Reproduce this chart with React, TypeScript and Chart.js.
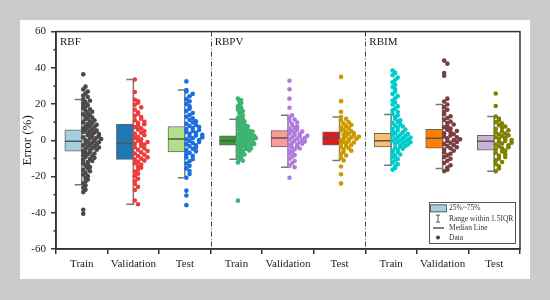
import React, { useEffect, useRef } from "react";
import { Chart, registerables } from "chart.js";

Chart.register(...registerables);

const FONT = "'Liberation Serif', 'Times New Roman', serif";

const categories = ["Train", "Validation", "Test", "Train", "Validation", "Test", "Train", "Validation", "Test"];
const models = ["RBF", "RBPV", "RBIM"];
const yMinorTicks = [-50, -30, -10, 10, 30, 50];

const q1 = [-6.0, -10.5, -6.4, -2.7, -3.6, -2.7, -3.6, -4.4, -5.5];
const median = [-0.5, -1.8, 0.7, -0.2, 1.3, 1.1, -0.2, 1.1, -0.5];
const q3 = [5.8, 8.9, 7.6, 2.5, 5.3, 4.7, 3.8, 6.0, 2.7];
const whiskerLow = [-24.5, -35.3, -20.7, -10.5, -14.9, -11.1, -13.8, -15.6, -17.1];
const whiskerHigh = [22.5, 33.6, 27.8, 11.6, 13.8, 12.9, 14.3, 19.8, 13.1];

const rbfTrain = [36.4, 29.6, 28.1, 26.9, 25.8, 24.7, 23.9, 22.6, 21.8, 21.1, 20.2, 19.4, 18.6, 17.9, 17.1, 16.3, 15.8, 15.0, 14.4, 13.8, 13.1, 12.5, 12.0, 11.6, 11.0, 10.4, 9.9, 9.5, 9.0, 8.6, 8.1, 7.7, 7.3, 6.9, 6.5, 6.1, 5.7, 5.4, 5.0, 4.6, 4.3, 3.9, 3.5, 3.2, 2.8, 2.4, 2.1, 1.7, 1.4, 1.0, 0.7, 0.3, 0.0, -0.4, -0.7, -1.1, -1.4, -1.8, -2.2, -2.5, -2.9, -3.3, -3.6, -4.0, -4.4, -4.8, -5.2, -5.6, -6.0, -6.4, -6.9, -7.3, -7.8, -8.2, -8.7, -9.2, -9.7, -10.3, -10.8, -11.4, -12.0, -12.7, -13.3, -14.0, -14.8, -15.5, -16.3, -17.1, -18.0, -18.9, -19.8, -20.8, -21.7, -22.8, -23.9, -25.0, -26.2, -27.3, -28.6, -38.3, -40.6];
const rbfValidation = [33.6, 26.6, 22.4, 21.5, 20.7, 19.6, 18.2, 16.9, 15.4, 14.6, 13.5, 12.8, 11.9, 11.0, 10.2, 9.6, 8.9, 8.1, 7.3, 6.6, 5.9, 5.1, 4.2, 3.6, 2.8, 2.0, 1.3, 0.5, -0.2, -0.9, -1.5, -1.8, -2.4, -3.1, -3.8, -4.5, -5.2, -5.9, -6.6, -7.3, -8.0, -8.7, -9.4, -10.1, -10.5, -11.2, -11.9, -12.6, -13.4, -14.3, -15.1, -16.2, -17.3, -18.5, -19.8, -21.2, -22.6, -24.1, -25.7, -27.4, -33.2, -35.3];
const rbfTest = [32.5, 27.8, 26.9, 25.6, 24.3, 22.8, 21.5, 20.1, 18.7, 17.4, 16.2, 15.1, 14.0, 13.0, 12.1, 11.3, 10.5, 9.8, 9.1, 8.5, 7.9, 7.3, 6.8, 6.2, 5.7, 5.1, 4.6, 4.1, 3.6, 3.1, 2.6, 2.1, 1.6, 1.1, 0.6, 0.1, -0.4, -0.9, -1.5, -2.1, -2.7, -3.3, -4.0, -4.7, -5.4, -6.1, -6.9, -7.7, -8.6, -9.5, -10.5, -11.6, -12.8, -14.1, -15.5, -17.0, -18.6, -20.7, -27.8, -30.5, -35.8];
const rbpvTrain = [23.0, 22.1, 21.3, 20.4, 19.6, 18.7, 17.9, 17.0, 16.2, 15.4, 14.6, 13.8, 13.1, 12.4, 11.7, 11.0, 10.4, 9.8, 9.2, 8.7, 8.2, 7.7, 7.3, 6.9, 6.5, 6.1, 5.7, 5.4, 5.1, 4.8, 4.5, 4.2, 3.9, 3.6, 3.3, 3.0, 2.7, 2.5, 2.2, 1.9, 1.7, 1.4, 1.2, 0.9, 0.7, 0.4, 0.2, 0.0, -0.2, -0.5, -0.7, -1.0, -1.2, -1.5, -1.7, -2.0, -2.3, -2.6, -2.9, -3.2, -3.5, -3.8, -4.1, -4.4, -4.8, -5.2, -5.6, -6.0, -6.4, -6.9, -7.4, -7.9, -8.5, -9.1, -9.8, -10.5, -11.3, -12.2, -33.3];
const rbpvValidation = [32.9, 28.2, 23.0, 18.0, 13.8, 12.6, 11.5, 10.6, 9.8, 9.0, 8.3, 7.6, 7.0, 6.4, 5.8, 5.3, 4.8, 4.3, 3.8, 3.4, 2.9, 2.5, 2.1, 1.7, 1.3, 0.9, 0.5, 0.1, -0.3, -0.7, -1.1, -1.5, -1.9, -2.4, -2.9, -3.4, -3.9, -4.5, -5.1, -5.8, -6.5, -7.3, -8.2, -9.1, -10.2, -11.4, -12.7, -14.1, -14.9, -20.7];
const rbpvTest = [35.0, 21.6, 15.8, 12.9, 11.8, 10.9, 10.0, 9.2, 8.5, 7.8, 7.2, 6.6, 6.0, 5.5, 5.0, 4.5, 4.0, 3.6, 3.2, 2.8, 2.4, 2.0, 1.6, 1.2, 0.8, 0.4, 0.0, -0.4, -0.8, -1.2, -1.6, -2.1, -2.6, -3.1, -3.7, -4.3, -5.0, -5.7, -6.5, -7.4, -8.4, -9.6, -11.1, -14.5, -18.7, -23.8];
const rbimTrain = [38.5, 37.2, 35.9, 34.6, 33.3, 32.0, 30.7, 29.4, 28.1, 26.8, 25.6, 24.4, 23.2, 22.0, 20.9, 19.8, 18.7, 17.6, 16.6, 15.6, 14.6, 13.7, 12.8, 11.9, 11.1, 10.3, 9.6, 8.9, 8.2, 7.6, 7.0, 6.4, 5.9, 5.4, 4.9, 4.4, 3.9, 3.5, 3.1, 2.7, 2.3, 1.9, 1.5, 1.1, 0.8, 0.4, 0.1, -0.2, -0.5, -0.8, -1.1, -1.5, -1.9, -2.3, -2.7, -3.1, -3.6, -4.1, -4.6, -5.2, -5.8, -6.4, -7.1, -7.8, -8.6, -9.4, -10.3, -11.2, -12.2, -13.2, -14.3, -15.3, -16.2];
const rbimValidation = [44.0, 42.3, 37.1, 35.6, 23.0, 21.4, 19.8, 18.3, 16.9, 15.6, 14.4, 13.3, 12.3, 11.3, 10.4, 9.5, 8.7, 7.9, 7.2, 6.5, 5.8, 5.1, 4.5, 3.9, 3.3, 2.7, 2.1, 1.6, 1.1, 0.6, 0.1, -0.4, -0.9, -1.4, -2.0, -2.6, -3.2, -3.8, -4.4, -5.1, -5.8, -6.6, -7.4, -8.3, -9.2, -10.2, -11.3, -12.5, -13.8, -15.0, -16.2, -17.0];
const rbimTest = [25.8, 18.9, 13.1, 12.0, 11.0, 10.1, 9.2, 8.4, 7.6, 6.9, 6.2, 5.5, 4.9, 4.3, 3.7, 3.2, 2.7, 2.2, 1.7, 1.2, 0.7, 0.2, -0.3, -0.8, -1.3, -1.8, -2.3, -2.8, -3.3, -3.8, -4.4, -5.0, -5.6, -6.2, -6.9, -7.6, -8.4, -9.2, -10.1, -11.0, -12.0, -13.1, -14.3, -15.6, -17.1];

const groups = [rbfTrain, rbfValidation, rbfTest, rbpvTrain, rbpvValidation, rbpvTest, rbimTrain, rbimValidation, rbimTest];

const boxColors = ["#a6cee3", "#1f78b4", "#b2df8a", "#33a02c", "#fb9a99", "#e31a1c", "#fdbf6f", "#ff7f00", "#cab2d6"];
const pointColors = ["#4a4a4a", "#ee3b3b", "#1a6fe0", "#3cb371", "#b07cdc", "#cc9900", "#00cccc", "#7b3f3f", "#808000"];

const PX_PER_UNIT = 467 / 9;
const BOX_WIDTH_PX = 17;
const BOX_SHIFT = BOX_WIDTH_PX / 2 / PX_PER_UNIT;

// dot-histogram placement: each point keeps its value, horizontal offset by rank inside its value bin
function swarm(values: number[], center: number) {
  const bin = 3;
  const bins = new Map<number, number[]>();
  values.forEach((v, i) => {
    const b = Math.floor(v / bin);
    if (!bins.has(b)) bins.set(b, []);
    bins.get(b)!.push(i);
  });
  const rank: number[] = new Array(values.length).fill(0);
  let maxCount = 1;
  bins.forEach((idx) => {
    maxCount = Math.max(maxCount, idx.length);
    const order = idx.slice().sort((a, b) => ((a * 0.618) % 1) - ((b * 0.618) % 1));
    order.forEach((id, r) => (rank[id] = r));
  });
  const dx = Math.min(3.2, 18 / Math.max(1, maxCount - 1));
  return values.map((v, i) => ({ x: center + (1.5 + rank[i] * dx) / PX_PER_UNIT, y: v }));
}

const decorPlugin = {
  id: "decor",
  beforeDatasetsDraw(chart: any) {
    const { ctx, chartArea: a, scales } = chart;
    const xs = scales.x;
    const ys = scales.y;
    ctx.save();
    ctx.strokeStyle = "#444";
    ctx.lineWidth = 1;
    ctx.setLineDash([5, 2, 1, 2]);
    [3, 6].forEach((v) => {
      const x = Math.round(xs.getPixelForValue(v)) + 0.5;
      ctx.beginPath();
      ctx.moveTo(x, a.top);
      ctx.lineTo(x, a.bottom);
      ctx.stroke();
    });
    ctx.setLineDash([]);
    ctx.strokeStyle = "#777";
    ctx.lineWidth = 1.5;
    categories.forEach((_, i) => {
      const x = xs.getPixelForValue(i + 0.5);
      const yh = ys.getPixelForValue(whiskerHigh[i]);
      const yl = ys.getPixelForValue(whiskerLow[i]);
      ctx.beginPath();
      ctx.moveTo(x - 7, yh);
      ctx.lineTo(x, yh);
      ctx.lineTo(x, yl);
      ctx.lineTo(x - 7, yl);
      ctx.stroke();
    });
    ctx.fillStyle = "#222";
    ctx.font = `11px ${FONT}`;
    ctx.textBaseline = "middle";
    models.forEach((m, k) => {
      ctx.fillText(m, xs.getPixelForValue(k * 3) + 4, a.top + 11);
    });
    // minor y ticks
    ctx.strokeStyle = "#333";
    ctx.lineWidth = 1.5;
    yMinorTicks.forEach((v) => {
      const y = ys.getPixelForValue(v);
      ctx.beginPath();
      ctx.moveTo(a.left - 2.5, y);
      ctx.lineTo(a.left, y);
      ctx.stroke();
    });
    ctx.restore();
  },
  afterDatasetsDraw(chart: any) {
    const { ctx, chartArea: a } = chart;
    ctx.save();
    ctx.strokeStyle = "#333";
    ctx.lineWidth = 1.5;
    ctx.strokeRect(a.left, a.top, a.right - a.left, a.bottom - a.top);
    const w = 86;
    const h = 41;
    const x0 = a.right - 5 - w;
    const y0 = a.bottom - 6 - h;
    ctx.fillStyle = "#fff";
    ctx.fillRect(x0, y0, w, h);
    ctx.strokeStyle = "#555";
    ctx.lineWidth = 1;
    ctx.strokeRect(x0 + 0.5, y0 + 0.5, w, h);
    const rows = [y0 + 6.3, y0 + 16.6, y0 + 26, y0 + 35.6];
    ctx.fillStyle = boxColors[0];
    ctx.fillRect(x0 + 1, rows[0] - 4, 16, 8);
    ctx.strokeStyle = "#666";
    ctx.strokeRect(x0 + 1.5, rows[0] - 3.5, 16, 7);
    ctx.strokeStyle = "#555";
    ctx.beginPath();
    ctx.moveTo(x0 + 7, rows[1] - 3.5);
    ctx.lineTo(x0 + 11, rows[1] - 3.5);
    ctx.moveTo(x0 + 9, rows[1] - 3.5);
    ctx.lineTo(x0 + 9, rows[1] + 3.5);
    ctx.moveTo(x0 + 7, rows[1] + 3.5);
    ctx.lineTo(x0 + 11, rows[1] + 3.5);
    ctx.stroke();
    ctx.lineWidth = 1.5;
    ctx.beginPath();
    ctx.moveTo(x0 + 4, rows[2]);
    ctx.lineTo(x0 + 15, rows[2]);
    ctx.stroke();
    ctx.fillStyle = "#444";
    ctx.beginPath();
    ctx.arc(x0 + 9, rows[3], 2, 0, Math.PI * 2);
    ctx.fill();
    ctx.fillStyle = "#333";
    ctx.font = `7.5px ${FONT}`;
    ctx.textBaseline = "middle";
    ["25%~75%", "Range within 1.5IQR", "Median Line", "Data"].forEach((t, k) => {
      ctx.fillText(t, x0 + 20, rows[k]);
    });
    ctx.restore();
  },
};

export default function App() {
  const ref = useRef<HTMLCanvasElement | null>(null);

  useEffect(() => {
    if (!ref.current) return;
    const datasets: any[] = [
      {
        type: "bar",
        label: "25%~75%",
        data: q1.map((lo, i) => ({ x: i + 0.5 - BOX_SHIFT, y: [lo, q3[i]] })),
        backgroundColor: boxColors,
        borderColor: "#666",
        borderWidth: 1,
        borderSkipped: false,
        barThickness: BOX_WIDTH_PX,
        grouped: false,
        order: 3,
      },
      {
        type: "scatter",
        label: "Median Line",
        data: median.map((m, i) => ({ x: i + 0.5 - BOX_SHIFT, y: m })),
        pointStyle: "line",
        pointRadius: 8.5,
        pointHoverRadius: 8.5,
        pointBorderColor: "#555",
        pointBorderWidth: 1.5,
        order: 2,
      },
      ...groups.map((vals, i) => ({
        type: "scatter",
        label: "Data",
        data: swarm(vals, i + 0.5),
        pointRadius: 2.3,
        pointHoverRadius: 2.3,
        pointBackgroundColor: pointColors[i],
        pointBorderWidth: 0,
        order: 1,
      })),
    ];

    const chart = new Chart(ref.current, {
      type: "scatter",
      data: { datasets },
      plugins: [decorPlugin],
      options: {
        animation: false,
        responsive: false,
        events: [],
        layout: { padding: { top: 9, right: 7, left: 0, bottom: 0 } },
        plugins: { legend: { display: false }, tooltip: { enabled: false } },
        scales: {
          x: {
            type: "linear",
            min: 0,
            max: 9,
            offset: false,
            afterBuildTicks: (s: any) => {
              s.ticks = categories.map((_, i) => ({ value: i + 0.5 }));
            },
            afterFit: (s: any) => {
              s.height = 30;
            },
            ticks: {
              autoSkip: false,
              maxRotation: 0,
              padding: 4,
              color: "#222",
              font: { family: FONT, size: 11 },
              callback: (v: any) => categories[Math.round(Number(v) - 0.5)] ?? "",
            },
            grid: { drawOnChartArea: false, tickLength: 5, color: "#333", lineWidth: 1.5 },
            border: { color: "#333", width: 1.5 },
          },
          y: {
            min: -60,
            max: 60,
            afterFit: (s: any) => {
              s.width = 36;
            },
            ticks: {
              stepSize: 20,
              padding: 5,
              color: "#222",
              font: { family: FONT, size: 11 },
              callback: (v: any) => String(v),
            },
            grid: { drawOnChartArea: false, tickLength: 5, color: "#333", lineWidth: 1.5 },
            border: { color: "#333", width: 1.5 },
            title: { display: true, text: "Error (%)", color: "#222", padding: 0, font: { family: FONT, size: 13 } },
          },
        },
      } as any,
    });
    return () => chart.destroy();
  }, []);

  return (
    <div style={{ position: "fixed", left: 0, top: 0, width: 550, height: 300, background: "#cbcbcb" }}>
      <div style={{ position: "absolute", left: 20, top: 20, width: 510, height: 259, background: "#fff" }}>
        <canvas ref={ref} width={510} height={259} style={{ display: "block" }} />
      </div>
    </div>
  );
}
